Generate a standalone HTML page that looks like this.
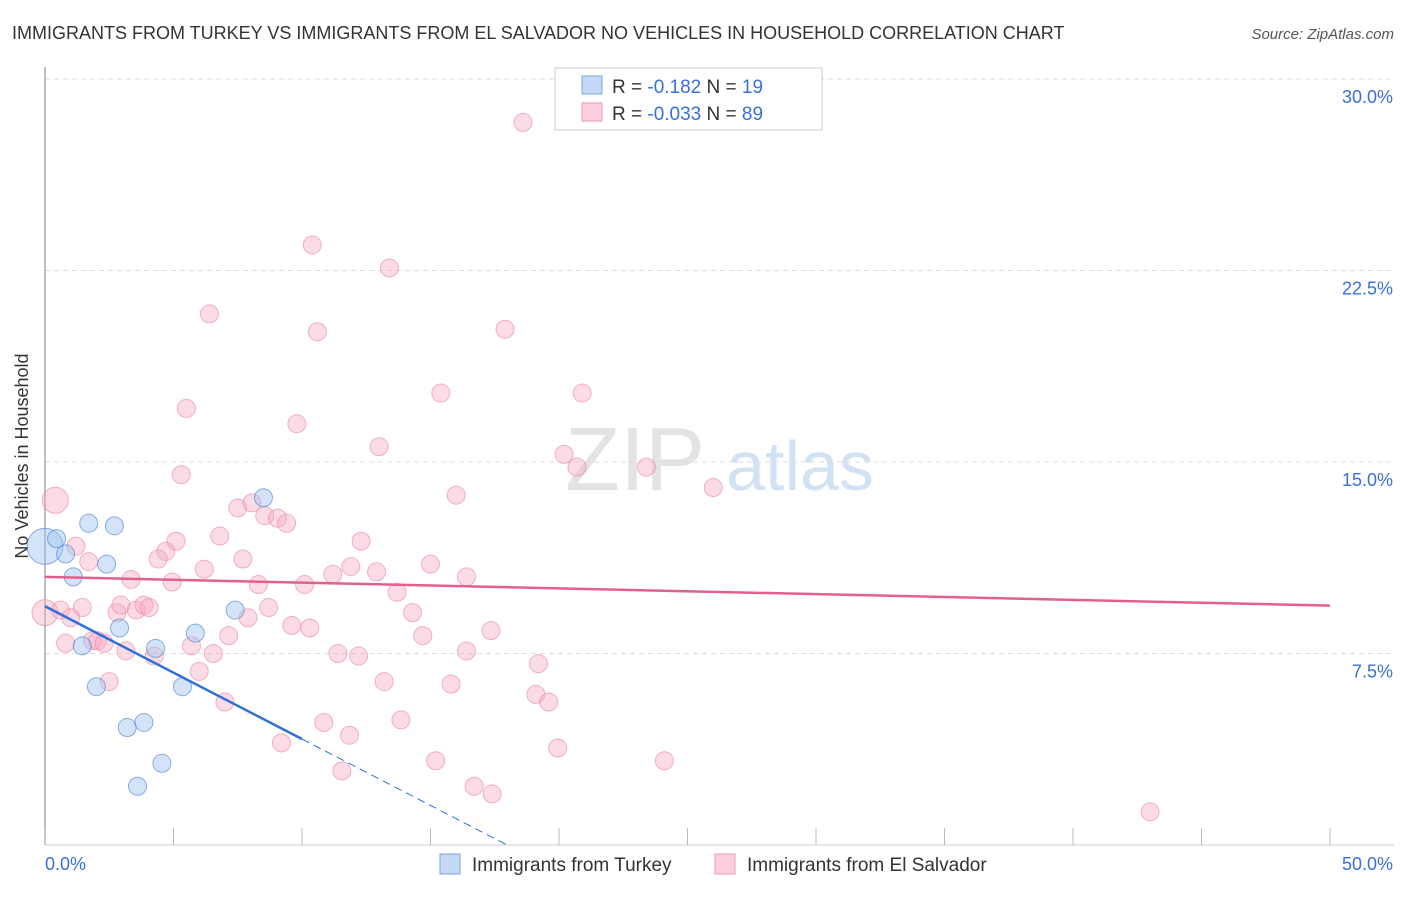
<!DOCTYPE html>
<html><head><meta charset="utf-8"><style>
body{margin:0;background:#fff;font-family:"Liberation Sans",sans-serif;}
svg text{font-family:"Liberation Sans",sans-serif;}
</style></head><body>
<svg id="chart" width="1406" height="892">
<text x="12" y="39" font-size="18" fill="#333">IMMIGRANTS FROM TURKEY VS IMMIGRANTS FROM EL SALVADOR NO VEHICLES IN HOUSEHOLD CORRELATION CHART</text>
<text x="1394" y="39" font-size="15" fill="#555" text-anchor="end" font-style="italic">Source: ZipAtlas.com</text>
<text x="28" y="456" font-size="18" fill="#333" text-anchor="middle" transform="rotate(-90 28 456)">No Vehicles in Household</text>
<g><text x="635" y="490" font-size="90" fill="#ddd" text-anchor="middle" font-family="Liberation Serif" opacity="0.8">ZIP</text><text x="800" y="490" font-size="70" fill="#c8dcf3" text-anchor="middle" opacity="0.8">atlas</text></g>
<g id="grid"></g><g id="axes"></g><g id="marks"></g>
<g>
<rect x="555" y="68" width="267" height="62" fill="#fff" stroke="#ccc"/>
<rect x="582" y="76" width="20" height="18" fill="#c5d9f5" stroke="#7aa3e0"/>
<rect x="582" y="103" width="20" height="18" fill="#fbd0dc" stroke="#ef9ab2"/>
<text x="612" y="93" font-size="19" fill="#333">R = <tspan fill="#3a6fd8">-0.182</tspan>   N = <tspan fill="#3a6fd8">19</tspan></text>
<text x="612" y="120" font-size="19" fill="#333">R = <tspan fill="#3a6fd8">-0.033</tspan>   N = <tspan fill="#3a6fd8">89</tspan></text>
</g>
<g>
<rect x="440" y="854" width="20" height="20" fill="#c5d9f5" stroke="#7aa3e0"/>
<text x="472" y="871" font-size="19" fill="#333">Immigrants from Turkey</text>
<rect x="715" y="854" width="20" height="20" fill="#fbd0dc" stroke="#ef9ab2"/>
<text x="747" y="871" font-size="19" fill="#333">Immigrants from El Salvador</text>
</g>
</svg>
<script>
const yTicks=[7.5,15,22.5,30];
const yTickLabels=["7.5%","15.0%","22.5%","30.0%"];
const xTicks=[0,5,10,15,20,25,30,35,40,45,50];
const turkeyX=[0,0.45,0.8,1.1,1.7,2.7,2.4,1.45,2.9,2.0,4.3,5.85,5.35,3.2,3.85,4.55,3.6,7.4,8.5];
const turkeyY=[11.7,12.0,11.4,10.5,12.6,12.5,11.0,7.8,8.5,6.2,7.7,8.3,6.2,4.6,4.8,3.2,2.3,9.2,13.6];
const salvX=[18.6,10.4,13.4,6.4,10.6,17.9,20.9,15.4,5.5,9.8,13.0,20.2,20.7,23.4,5.3,16.0,26.0,0.4,7.5,8.05,8.55,9.05,9.4,6.8,5.1,4.7,4.4,1.2,1.7,12.3,7.7,6.2,3.35,4.95,8.3,10.1,11.2,11.9,12.9,15.0,16.4,13.7,0,0.6,1.45,2.8,2.95,3.55,3.85,4.05,1.0,8.7,7.9,14.3,9.6,10.3,7.15,14.7,17.35,1.85,2.05,2.3,0.8,3.15,4.25,5.7,6.55,6.0,11.4,12.2,16.4,19.2,2.5,13.2,15.8,19.1,19.6,7.0,10.85,13.85,11.85,9.2,19.95,15.2,24.1,11.55,16.7,17.4,43.0];
const salvY=[28.3,23.5,22.6,20.8,20.1,20.2,17.7,17.7,17.1,16.5,15.6,15.3,14.8,14.8,14.5,13.7,14.0,13.5,13.2,13.4,12.9,12.8,12.6,12.1,11.9,11.5,11.2,11.7,11.1,11.9,11.2,10.8,10.4,10.3,10.2,10.2,10.6,10.9,10.7,11.0,10.5,9.9,9.1,9.2,9.3,9.1,9.4,9.2,9.4,9.3,8.9,9.3,8.9,9.1,8.6,8.5,8.2,8.2,8.4,8.0,8.0,7.9,7.9,7.6,7.4,7.8,7.5,6.8,7.5,7.4,7.6,7.1,6.4,6.4,6.3,5.9,5.6,5.6,4.8,4.9,4.3,4.0,3.8,3.3,3.3,2.9,2.3,2.0,1.3];
const turkeyBig=[0];const salvBig=[17,42];
const turkeyLine=[9.35,-0.520];const salvLine=[10.5,-0.0225];
const L=45,R=1330,T=79,B=845;
const xs=v=>L+(v/50)*(R-L);const ys=v=>B-(v/30)*(B-T);
const NS="http://www.w3.org/2000/svg";
function mk(p,t,a){const e=document.createElementNS(NS,t);for(const k in a)e.setAttribute(k,a[k]);p.appendChild(e);return e;}
const grid=document.getElementById('grid'),axes=document.getElementById('axes'),marks=document.getElementById('marks');
yTicks.forEach((v,i)=>{
const g=mk(grid,'line',{x1:L,x2:1394,y1:ys(v),y2:ys(v),stroke:'#ddd','stroke-dasharray':'5,4'});


const t=mk(axes,'text',{x:1393,y:ys(v)+24,'text-anchor':'end','font-size':18,fill:'#3a6fd8'});t.textContent=yTickLabels[i];


});
const ax=mk(axes,'line',{x1:L,x2:L,y1:67,y2:845,stroke:'#aaa','stroke-width':1.5});


const bx=mk(axes,'line',{x1:L,x2:1394,y1:845,y2:845,stroke:'#ccc'});


xTicks.forEach(v=>{const t=mk(axes,'line',{x1:xs(v),x2:xs(v),y1:828,y2:845,stroke:'#bbb'});

});
const x0=mk(axes,'text',{x:45,y:870,'font-size':18,fill:'#3a6fd8'});x0.textContent='0.0%';


const x1=mk(axes,'text',{x:1393,y:870,'font-size':18,fill:'#3a6fd8','text-anchor':'end'});x1.textContent='50.0%';


salvX.forEach((v,i)=>{const c=mk(marks,'circle',{cx:xs(v),cy:ys(salvY[i]),r:salvBig.includes(i)?13:9,fill:'rgba(246,168,192,0.4)',stroke:'rgba(234,130,160,0.6)'});

});
turkeyX.forEach((v,i)=>{const c=mk(marks,'circle',{cx:xs(v),cy:ys(turkeyY[i]),r:turkeyBig.includes(i)?18:9,fill:'rgba(160,195,240,0.45)',stroke:'rgba(70,120,210,0.6)'});

});
const pl=mk(marks,'line',{x1:xs(0),y1:ys(salvLine[0]),x2:xs(50),y2:ys(salvLine[0]+salvLine[1]*50),stroke:'#e4608c','stroke-width':2.5});


const tEnd=10,tZero=-turkeyLine[0]/turkeyLine[1];
const bl=mk(marks,'line',{x1:xs(0),y1:ys(turkeyLine[0]),x2:xs(tEnd),y2:ys(turkeyLine[0]+turkeyLine[1]*tEnd),stroke:'#2f6fd8','stroke-width':2.5});


const bd=mk(marks,'line',{x1:xs(tEnd),y1:ys(turkeyLine[0]+turkeyLine[1]*tEnd),x2:xs(tZero),y2:ys(0),stroke:'#2f6fd8','stroke-width':1,'stroke-dasharray':'8,5'});


</script>
</body></html>
